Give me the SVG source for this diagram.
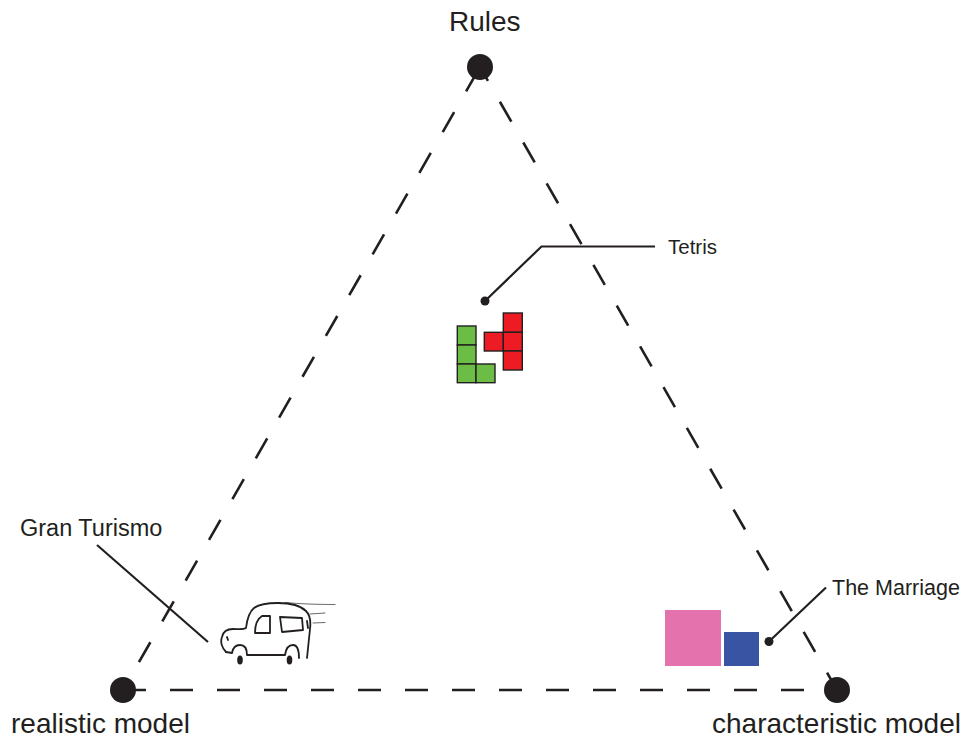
<svg xmlns="http://www.w3.org/2000/svg" width="968" height="738" viewBox="0 0 968 738">
  <style>
    .edge { fill: none; stroke: #231f20; stroke-width: 2.6; stroke-dasharray: 23 24; }
    .lead { fill: none; stroke: #231f20; stroke-width: 2.2; }
    .pole { fill: #231f20; }
    .dot { fill: #231f20; }
    .big { font-family: "Liberation Sans", Arial, sans-serif; font-size: 28px; fill: #231f20; }
    .lbl { font-family: "Liberation Sans", Arial, sans-serif; font-size: 20.5px; fill: #231f20; }
    .cell { stroke: #231f20; stroke-width: 1.4; }
    .green { fill: #6cbd45; }
    .red { fill: #ed1c24; }
    .ink { fill: none; stroke: #231f20; stroke-width: 1.8; stroke-linecap: round; stroke-linejoin: round; }
    .speed { fill: none; stroke: #231f20; stroke-width: 0.9; stroke-linecap: round; opacity: 0.75; }
  </style>

  <rect width="968" height="738" fill="#ffffff"/>

  <!-- dashed triangle and leader lines -->
  <g id="connectors">
    <path class="edge" d="M480 67 L123 690" stroke-dashoffset="42"/>
    <path class="edge" d="M837 690 L480 67" stroke-dashoffset="3"/>
    <path class="edge" d="M123 690 L837 690"/>
    <path class="lead" d="M485 301 L541.5 246.5 L655 246.5"/>
    <path class="lead" d="M97 545 L208 642"/>
    <path class="lead" d="M769 641.5 L826 587.5"/>
  </g>

  <!-- corner poles -->
  <g id="rules">
    <circle class="pole" cx="480" cy="67" r="13"/>
    <text class="big" x="449" y="31">Rules</text>
  </g>
  <g id="realistic-model">
    <circle class="pole" cx="123" cy="690" r="13"/>
    <text class="big" x="11" y="733">realistic model</text>
  </g>
  <g id="characteristic-model">
    <circle class="pole" cx="837" cy="690" r="13"/>
    <text class="big" x="712" y="733">characteristic model</text>
  </g>

  <!-- Tetris: L piece and T piece -->
  <g id="tetris">
    <circle class="dot" cx="485" cy="301" r="4.5"/>
    <text class="lbl" x="668" y="254">Tetris</text>
    <rect class="cell green" x="457.3" y="326" width="18.7" height="19"/>
    <rect class="cell green" x="457.3" y="345" width="18.7" height="19"/>
    <rect class="cell green" x="457.3" y="364" width="18.7" height="18.7"/>
    <rect class="cell green" x="476" y="364" width="19" height="18.7"/>
    <rect class="cell red" x="503.3" y="313" width="19" height="19.3"/>
    <rect class="cell red" x="484.3" y="332.3" width="19" height="18.7"/>
    <rect class="cell red" x="503.3" y="332.3" width="19" height="18.7"/>
    <rect class="cell red" x="503.3" y="351" width="19" height="19"/>
  </g>

  <!-- Gran Turismo: sketched car -->
  <g id="gran-turismo">
    <text class="lbl" x="20" y="536" style="font-size:23.5px">Gran Turismo</text>
    <g id="car">
      <!-- body outline -->
      <path class="ink" d="M226 652 C222 648 220 642 222 637 C223 632 227 629 233 629 C238 629 243 630 246 628 C247 620 249 612 254 608 C259 604 268 603 278 603 C290 603 301 606 306 611 C310 615 311 621 310 629 C309 639 308 648 307 658"/>
      <!-- front wheel arch and sill -->
      <path class="ink" d="M226 652 L232 653 C233 647 236 645 240 645 C245 645 247 649 247 655 L285 655 C286 648 289 645 293 645 C297 645 299 650 299 658"/>
      <!-- windows -->
      <path class="ink" d="M255 633 C255 626 257 619 262 616 L270 616 L270 633 Z"/>
      <path class="ink" d="M280 617 L302 618 L303 630 L282 632 Z"/>
      <!-- tail light and door mark -->
      <path class="ink" d="M307 621 L308 628"/>
      <path class="ink" d="M227 637 L228 640"/>
      <!-- wheels -->
      <ellipse cx="240" cy="660" rx="2.8" ry="4.5" fill="#231f20"/>
      <ellipse cx="289.5" cy="660" rx="2.8" ry="4.5" fill="#231f20"/>
      <!-- speed lines -->
      <path class="speed" d="M285 602.5 C300 604 318 604.5 335 604.5"/>
      <path class="speed" d="M310 614 L325 613"/>
      <path class="speed" d="M313 623 L325 622.5"/>
    </g>
  </g>

  <!-- The Marriage: pink and blue squares -->
  <g id="the-marriage">
    <rect x="665" y="610" width="56" height="56" fill="#e472ad"/>
    <rect x="724" y="632" width="35" height="34" fill="#3a54a4"/>
    <circle class="dot" cx="769" cy="641.5" r="4.5"/>
    <text class="lbl" x="832" y="595" style="font-size:21.5px">The Marriage</text>
  </g>
</svg>
